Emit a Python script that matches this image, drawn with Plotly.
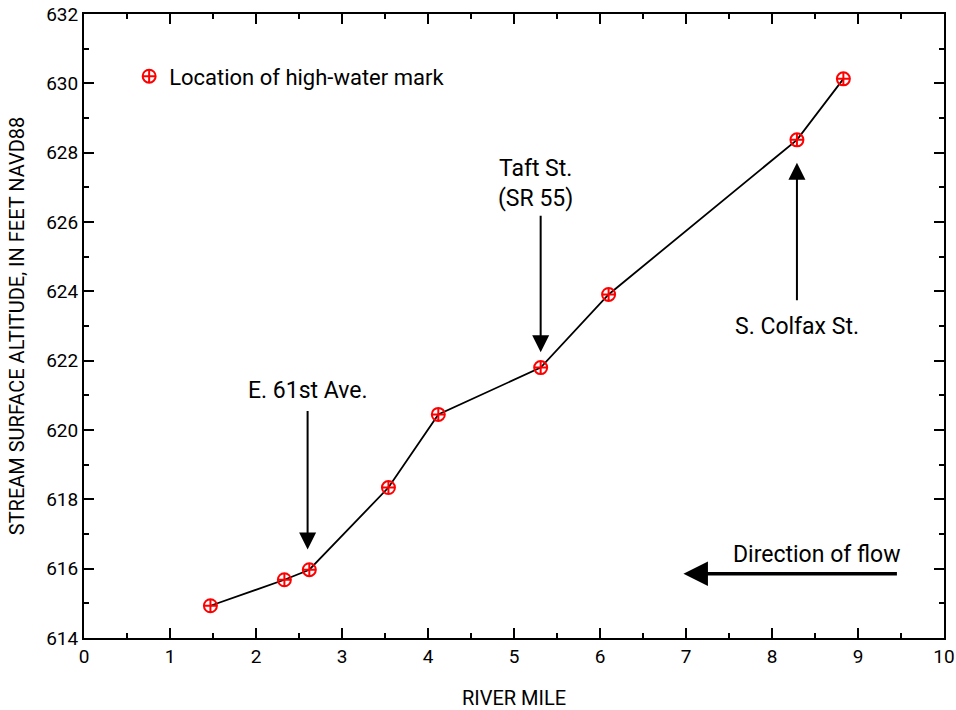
import plotly.graph_objects as go

river_mile = [1.47, 2.33, 2.62, 3.54, 4.12, 5.31, 6.10, 8.29, 8.83]
altitude = [614.93, 615.68, 615.97, 618.34, 620.45, 621.80, 623.91, 628.37, 630.13]

x_ticks = list(range(0, 11))
y_ticks = list(range(614, 633, 2))

FONT = "Liberation Sans Narrow, Arial Narrow, Roboto, sans-serif"

fig = go.Figure()
fig.add_trace(go.Scatter(x=river_mile, y=altitude, mode="lines",
                         line=dict(color="black", width=1.8), showlegend=False,
                         hoverinfo="skip"))
fig.add_trace(go.Scatter(x=river_mile, y=altitude, mode="markers",
                         marker=dict(symbol="circle-cross-open", color="red", size=13,
                                     line=dict(color="red", width=2)),
                         name="Location of high-water mark", showlegend=True))

axis_common = dict(showline=True, linecolor="black", linewidth=2, mirror="ticks",
                   ticks="inside", ticklen=10, tickwidth=2, tickcolor="black",
                   showgrid=False, zeroline=False, automargin=False,
                   tickfont=dict(family=FONT, size=19, color="black"))

fig.update_xaxes(range=[0, 10], tickvals=x_ticks,
                 title=dict(text="RIVER MILE", font=dict(family=FONT, size=20, color="black"), standoff=24),
                 minor=dict(ticks="inside", ticklen=5, tickwidth=2, tickcolor="black", dtick=0.5, showgrid=False),
                 **axis_common)
fig.update_yaxes(range=[614, 632], tickvals=y_ticks,
                 title=dict(text="STREAM SURFACE ALTITUDE, IN FEET NAVD88", font=dict(family=FONT, size=20, color="black"), standoff=16),
                 minor=dict(ticks="inside", ticklen=5, tickwidth=2, tickcolor="black", dtick=1, showgrid=False),
                 **axis_common)

ann_font = dict(family=FONT, size=23, color="black")
# vertical pointer arrows: (tip_x, tip_y, tail_x, tail_y)
arrows = [
    (2.60, 616.55, 2.60, 620.59),
    (5.31, 622.24, 5.31, 626.22),
    (8.29, 627.71, 8.29, 623.70),
]
for tx, ty, ax, ay in arrows:
    fig.add_annotation(x=tx, y=ty, ax=ax, ay=ay, xref="x", yref="y", axref="x", ayref="y",
                       showarrow=True, arrowhead=2, arrowsize=1.7, arrowwidth=2,
                       arrowcolor="black", text="")
# direction of flow arrow
fig.add_annotation(x=6.97, y=615.85, ax=9.47, ay=615.85, xref="x", yref="y", axref="x", ayref="y",
                   showarrow=True, arrowhead=2, arrowsize=1.4, arrowwidth=3.5,
                   arrowcolor="black", text="")

labels = [
    (2.60, 621.13, "E. 61st Ave."),
    (5.25, 627.10, "Taft St.<br>(SR 55)"),
    (8.29, 622.98, "S. Colfax St."),
    (8.52, 616.40, "Direction of flow"),
]
for lx, ly, t in labels:
    fig.add_annotation(x=lx, y=ly, xref="x", yref="y", text=t, showarrow=False,
                       font=ann_font, align="center")

fig.update_layout(
    width=956, height=710,
    margin=dict(l=84, r=12, t=14, b=72),
    plot_bgcolor="white", paper_bgcolor="white",
    legend=dict(x=0.0525, y=0.9, xanchor="left", yanchor="middle",
                font=dict(family=FONT, size=22, color="black"),
                bgcolor="rgba(0,0,0,0)", itemwidth=30),
    font=dict(family=FONT, color="black"),
)

fig.write_html("out.html")
